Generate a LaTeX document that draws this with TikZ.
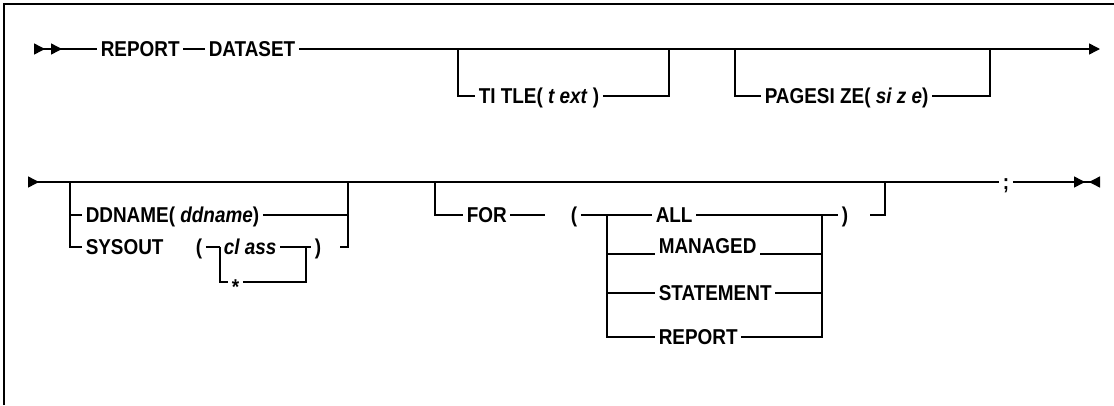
\documentclass[tikz,border=0pt]{standalone}
\usepackage{fontspec}
\setmainfont{Liberation Sans}[FakeStretch=0.88]
\usetikzlibrary{arrows.meta}
\tikzset{
  kw/.style = {font=\bfseries\fontsize{21.5}{21.5}\selectfont, inner xsep=3pt,
    inner ysep=0pt, text height=15.5pt, text depth=0pt, anchor=west},
  rail/.style = {line width=1.5pt},
}

\begin{document}
\begin{tikzpicture}[x=1pt,y=-1pt,rail]
\useasboundingbox (0,0) rectangle (1114,405);
\draw (4,405) -- (4,4) -- (1114,4);

% first line
\coordinate (s1) at (28,49);
\coordinate (t0) at (458,49);
\coordinate (t1) at (669,49);
\coordinate (p0) at (735,49);
\coordinate (p1) at (990,49);
\coordinate (e1) at (1100,49);
\node [kw] (report) at (97,49) {REPORT};
\node [kw] (dataset) at (205,49) {DATASET};
\node [kw] (title) at (475,96) {TI TLE( \textit{t ext} )};
\node [kw] (pagesize) at (761,96) {PAGESI ZE( \textit{si z e})};

\draw [{Triangle[reversed,length=11pt,width=11pt,sep=6pt]Triangle[reversed,length=11pt,width=11pt,sep=6pt]}-] (s1) -- (report);
\draw (report) -- (dataset);
\draw [-{Triangle[length=11pt,width=11pt]}] (dataset) -- (e1);
\draw (t0) |- (title);
\draw (title) -| (t1);
\draw (p0) |- (pagesize);
\draw (pagesize) -| (p1);

% second line
\coordinate (s2) at (28,182);
\coordinate (d0) at (70,182);
\coordinate (d1) at (348,182);
\coordinate (d2) at (340,247);
\coordinate (f0) at (435,182);
\coordinate (f1) at (885,182);
\coordinate (f2) at (545,215);
\coordinate (f3) at (870,215);
\coordinate (c0) at (220,247);
\coordinate (c1) at (306,247);
\coordinate (a0) at (607,215);
\coordinate (a1) at (822,215);
\coordinate (e2) at (1100,182);
\node [kw] (semi) at (999,182) {;};
\node [kw] (ddname) at (82,215) {DDNAME( \textit{ddname})};
\node [kw] (sysout) at (82,247) {SYSOUT};
\node [kw] (lp1) at (192,247) {(};
\node [kw] (class) at (220,247) {\textit{cl ass}};
\node [kw, text height=24.5pt] (star) at (228,282) {*};
\node [kw] (rp1) at (311,247) {)};
\node [kw] (for) at (463,215) {FOR};
\node [kw] (lp2) at (567,215) {(};
\node [kw] (all) at (652,215) {ALL};
\node [kw, anchor=south west] (managed) at (655,254) {MANAGED};
\node [kw] (statement) at (655,293) {STATEMENT};
\node [kw] (report2) at (655,337) {REPORT};
\node [kw] (rp2) at (838,215) {)};

\draw [{Triangle[reversed,length=11pt,width=11pt]}-] (s2) -- (semi);
\draw [-{Triangle[length=11pt,width=11pt,sep=4pt]Triangle[reversed,length=11pt,width=11pt]}] (semi) -- (e2);
\draw (d0) |- (ddname);
\draw (ddname) -| (d1);
\draw (d0) |- (sysout);
\draw (d2) -| (d1);
\draw (lp1) -- (class);
\draw (class) -- (rp1);
\draw (c0) |- (star);
\draw (star) -| (c1);
\draw (f0) |- (for);
\draw (for) -- (f2);
\draw (lp2) -- (all);
\draw (a0) |- (managed.south west);
\draw (a0) |- (statement);
\draw (a0) |- (report2);
\draw (managed.south east) -| (a1);
\draw (statement) -| (a1);
\draw (report2) -| (a1);
\draw (all) -- (rp2);
\draw (f3) -| (f1);
\end{tikzpicture}
\end{document}
